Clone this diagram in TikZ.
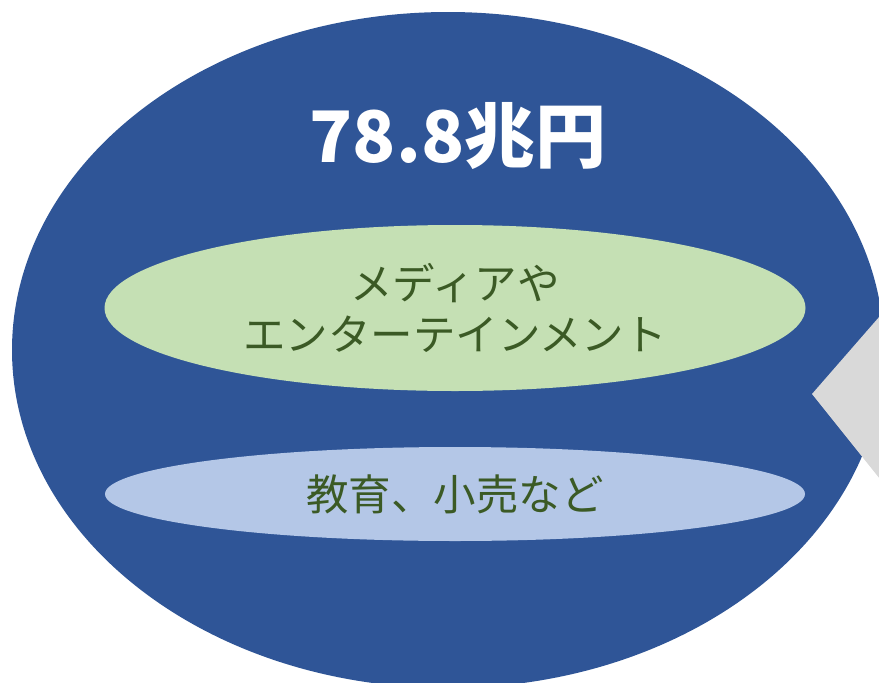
\documentclass[tikz,border=0pt]{standalone}
\usepackage{fontspec}
\setmainfont{Noto Sans CJK JP}
\usetikzlibrary{shapes.geometric}
\definecolor{darkblue}{HTML}{2F5597}
\definecolor{lightgreen}{HTML}{C5E0B4}
\definecolor{lightblue}{HTML}{B4C7E7}
\definecolor{textgreen}{HTML}{3B5A25}
\definecolor{grayshape}{HTML}{D9D9D9}
\tikzset{
  innerellipse/.style={ellipse, inner sep=0pt, align=center, text=textgreen,
    font=\fontsize{42.5}{51}\selectfont},
}
\begin{document}
\begin{tikzpicture}[x=1pt,y=-1pt]
\useasboundingbox (0,0) rectangle (879,683);
\clip (0,0) rectangle (879,683);
\fill[white] (0,0) rectangle (879,683);
\fill[darkblue] (448,350) ellipse [x radius=436, y radius=338];
\fill[grayshape] (812,394) -- (900,293) -- (900,504) -- cycle;
\node[font=\fontsize{71}{80}\bfseries\selectfont, text=white] (title) at (458,136) {78.8兆円};
\node[innerellipse, fill=lightgreen, minimum width=701pt, minimum height=166pt] (media) at (455,308)
  {メディアや\\エンターテインメント};
\node[innerellipse, fill=lightblue, minimum width=700pt, minimum height=94pt] (edu) at (455,494)
  {教育、小売など};
\end{tikzpicture}
\end{document}
